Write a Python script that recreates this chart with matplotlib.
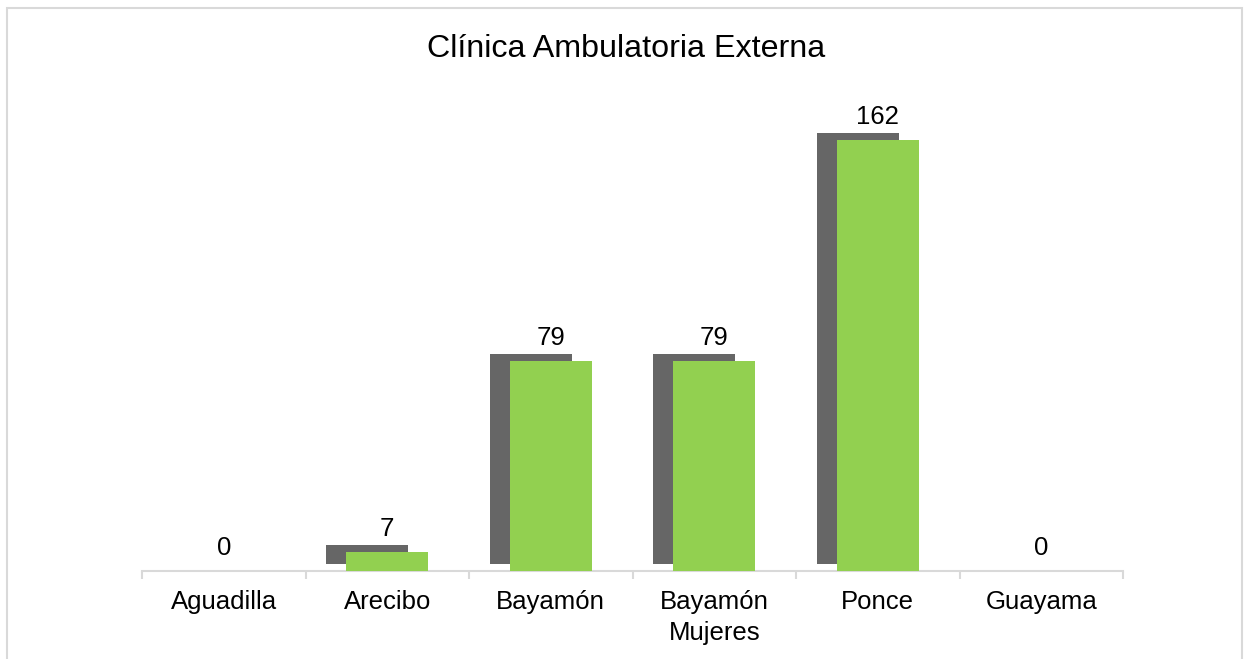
import numpy as np
from matplotlib import pyplot as plt
from matplotlib import patheffects as pe
from matplotlib.patches import Rectangle

# Data
categories = ['Aguadilla', 'Arecibo', 'Bayamón', 'Bayamón\nMujeres', 'Ponce', 'Guayama']
values = [0, 7, 79, 79, 162, 0]
title = 'Clínica Ambulatoria Externa'

plt.rcParams['font.family'] = ['Liberation Sans', 'DejaVu Sans']

fig = plt.figure(figsize=(12.44, 6.59), dpi=100)
ax = fig.add_axes([142 / 1244, 88 / 659, 981 / 1244, 479 / 659])

x = np.arange(len(categories))
shadow = [pe.SimplePatchShadow(offset=(-14.4, 5), shadow_rgbFace='#666666', alpha=1.0),
          pe.Normal()]
bars = ax.bar(x, values, width=0.5, color='#92D050', zorder=3)
for b in bars:
    b.set_path_effects(shadow)

# value labels
for xi, v in zip(x, values):
    ax.annotate(str(v), (xi, v), xytext=(0, 8), textcoords='offset points',
                ha='center', va='bottom', fontsize=18.5, color='black')

ax.set_xlim(-0.5, len(categories) - 0.5)
ax.set_ylim(0, 180)
for s in ['top', 'right', 'left']:
    ax.spines[s].set_visible(False)
ax.spines['bottom'].set_color('#d9d9d9')
ax.spines['bottom'].set_linewidth(1.5)
ax.set_yticks([])
ax.set_xticks(x)
ax.set_xticklabels(categories, fontsize=18.5, linespacing=1.35)
ax.tick_params(axis='x', which='major', length=0, pad=14)
ax.set_xticks(np.arange(-0.5, len(categories)), minor=True)
ax.tick_params(axis='x', which='minor', length=6, width=1.5, color='#d9d9d9')

fig.text(0.503, (659 - 49) / 659, title, ha='center', va='center', fontsize=23.2)

# chart border
fig.patches.append(Rectangle((7 / 1244, -0.05), 1235 / 1244, (651 / 659) + 0.05,
                             transform=fig.transFigure, fill=False,
                             edgecolor='#d9d9d9', linewidth=1.5))

fig.savefig('out.png', dpi=100)
